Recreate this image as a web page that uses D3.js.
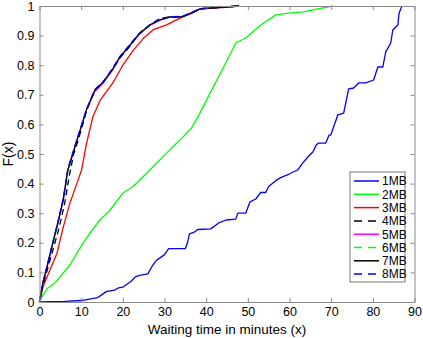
<!DOCTYPE html>
<html>
<head>
<meta charset="utf-8">
<script src="https://cdn.jsdelivr.net/npm/d3@7"></script>
<style>
  body { margin: 0; background: #fff; }
  svg { display: block; font-family: "Liberation Sans", Arial, sans-serif; }
</style>
</head>
<body>
<svg id="chart"></svg>
<script>
const mb1 = [[0,0],[6,0.002],[10,0.005],[12,0.01],[14,0.015],[15,0.025],[16,0.035],[18,0.04],[19,0.048],[20,0.05],[22,0.07],[23,0.085],[24,0.09],[26,0.095],[27,0.12],[28,0.14],[29,0.15],[30,0.16],[31,0.18],[35,0.18],[35.5,0.2],[36,0.23],[37,0.235],[38,0.245],[41.1,0.247],[43,0.267],[44.8,0.277],[47.1,0.28],[47.6,0.3],[49.5,0.3],[50.5,0.338],[51.9,0.348],[53.1,0.37],[54.3,0.37],[55,0.39],[56.7,0.41],[57.9,0.42],[59.6,0.43],[61,0.44],[62,0.446],[63.2,0.47],[64.4,0.49],[65.6,0.507],[66.4,0.53],[67,0.537],[68.7,0.537],[69.5,0.564],[69.9,0.564],[71.6,0.632],[73,0.638],[74.2,0.72],[75.4,0.723],[76.6,0.74],[78.3,0.74],[80.2,0.75],[81.2,0.794],[82.4,0.794],[83.1,0.845],[84.3,0.875],[84.8,0.919],[86,0.936],[86.3,0.976],[87,1]];
const mb2 = [[0,0],[0.8,0.024],[2,0.047],[3.7,0.064],[5.7,0.098],[7.3,0.125],[9.7,0.182],[12.1,0.233],[14.5,0.277],[16.9,0.31],[20,0.368],[22.5,0.39],[26.5,0.446],[30.5,0.503],[33.7,0.547],[36.5,0.588],[38.5,0.638],[41.1,0.71],[44.2,0.794],[47.1,0.875],[49.5,0.892],[53.1,0.936],[56.7,0.97],[59.8,0.976],[63.4,0.98],[66.8,0.99],[70.4,1]];
const mb3 = [[0,0],[0.8,0.05],[2.5,0.108],[4.2,0.165],[5.7,0.253],[7.3,0.334],[9.2,0.41],[10.1,0.446],[11.3,0.537],[12.8,0.625],[14.5,0.68],[17.6,0.74],[20,0.8],[22.5,0.85],[24.9,0.89],[27.3,0.92],[30.5,0.936],[32.9,0.953],[35.3,0.97],[37.7,0.986],[39.2,0.993],[44,0.995],[47.9,1]];
const mb4 = [[0,0],[0.8,0.055],[2,0.115],[3.3,0.18],[4.7,0.25],[6,0.33],[7.2,0.43],[8.2,0.5],[9.3,0.547],[11.4,0.65],[13.3,0.716],[15.3,0.743],[17.7,0.79],[19.5,0.828],[21.5,0.86],[23.5,0.9],[26.5,0.936],[28.9,0.958],[31.3,0.963],[34.2,0.963],[36.5,0.976],[38.5,0.99],[41.1,0.993],[47.9,1]];
const mb5 = [[0,0],[0.8,0.064],[2,0.13],[3.2,0.2],[4.4,0.267],[5.7,0.345],[6.8,0.446],[9,0.547],[11.3,0.65],[13.3,0.712],[15.3,0.74],[17.7,0.787],[19.3,0.826],[21.7,0.866],[24.1,0.907],[26.5,0.935],[28.9,0.952],[31.3,0.962],[34.2,0.963],[36.5,0.976],[38.5,0.99],[41.1,0.993],[47.9,1]];
const mb6 = [[0,0],[0.8,0.06],[2,0.125],[3.2,0.195],[4.4,0.262],[5.7,0.34],[6.8,0.44],[9,0.545],[11.3,0.648],[13.3,0.716],[15.3,0.743],[17.7,0.79],[19.3,0.828],[21.7,0.868],[24.1,0.909],[26.5,0.936],[28.9,0.953],[31.3,0.963],[34.2,0.963],[36.5,0.976],[38.5,0.99],[41.1,0.993],[47.9,1]];
const mb7 = [[0,0],[0.8,0.064],[2,0.13],[3.2,0.2],[4.4,0.267],[5.7,0.345],[6.8,0.446],[9,0.547],[11.3,0.65],[13.3,0.716],[15.3,0.743],[17.7,0.79],[19.3,0.828],[21.7,0.868],[24.1,0.909],[26.5,0.936],[28.9,0.953],[31.3,0.963],[34.2,0.963],[36.5,0.976],[38.5,0.99],[41.1,0.993],[47.9,1]];
const mb8 = [[0,0],[0.8,0.066],[2,0.132],[3.2,0.203],[4.4,0.27],[5.7,0.35],[6.8,0.45],[9,0.55],[11.3,0.652],[13.3,0.718],[15.3,0.745],[17.7,0.792],[19.3,0.83],[21.7,0.87],[24.1,0.91],[26.5,0.937],[28.9,0.954],[31.3,0.964],[34.2,0.965],[36.5,0.977],[38.5,0.99],[41.1,0.994],[47.9,1]];

const seriesNames = ["1MB", "2MB", "3MB", "4MB", "5MB", "6MB", "7MB", "8MB"];
const seriesData = [mb1, mb2, mb3, mb4, mb5, mb6, mb7, mb8];
const seriesColors = ["#0000ff", "#00ff00", "#ff0000", "#000000", "#ff00ff", "#00ff00", "#000000", "#0000ff"];
const seriesDash = [null, null, null, "6,4", null, "6,4", null, "6,4"];
// draw order: 2MB..8MB under, then 1MB, overlapping group topped by 8MB
const drawOrder = [1, 2, 0, 4, 5, 6, 3, 7];

const xTicks = [0, 10, 20, 30, 40, 50, 60, 70, 80, 90];
const yTicks = [0, 0.1, 0.2, 0.3, 0.4, 0.5, 0.6, 0.7, 0.8, 0.9, 1];

const width = 423, height = 338;
const margin = {top: 6, right: 8.5, bottom: 36, left: 39.5};

const svg = d3.select("#chart").attr("width", width).attr("height", height);

const x = d3.scaleLinear().domain([0, 90]).range([margin.left, width - margin.right]);
const y = d3.scaleLinear().domain([0, 1]).range([height - margin.bottom, margin.top]);

const axisColor = "#8a8a8a";

// lines
const line = d3.line().x(d => x(d[0])).y(d => y(d[1]));
const plot = svg.append("g");
drawOrder.forEach(i => {
    plot.append("path")
        .datum(seriesData[i])
        .attr("fill", "none")
        .attr("stroke", seriesColors[i])
        .attr("stroke-width", 1.3)
        .attr("stroke-dasharray", seriesDash[i])
        .attr("stroke-linejoin", "round")
        .attr("d", line);
});

// box + inner ticks on all sides
const fmtY = d => d === 0 ? "0" : d === 1 ? "1" : d3.format(".1f")(d);
const axB = svg.append("g").attr("transform", `translate(0,${y(0)})`)
    .call(d3.axisBottom(x).tickValues(xTicks).tickSizeInner(-4).tickSizeOuter(0).tickPadding(5));
const axT = svg.append("g").attr("transform", `translate(0,${y(1)})`)
    .call(d3.axisTop(x).tickValues(xTicks).tickSizeInner(-4).tickSizeOuter(0).tickFormat(""));
const axL = svg.append("g").attr("transform", `translate(${x(0)},0)`)
    .call(d3.axisLeft(y).tickValues(yTicks).tickSizeInner(-4).tickSizeOuter(0).tickPadding(5).tickFormat(fmtY));
const axR = svg.append("g").attr("transform", `translate(${x(90)},0)`)
    .call(d3.axisRight(y).tickValues(yTicks).tickSizeInner(-4).tickSizeOuter(0).tickFormat(""));

[axB, axT, axL, axR].forEach(g => {
    g.select(".domain").attr("stroke", axisColor).attr("stroke-width", 1);
    g.selectAll(".tick line").attr("stroke", axisColor);
    g.selectAll(".tick text").attr("fill", "#000").attr("font-size", 12.5).attr("font-family", "Liberation Sans, Arial, sans-serif");
});

// axis labels
svg.append("text")
    .attr("x", (x(0) + x(90)) / 2).attr("y", 334)
    .attr("text-anchor", "middle").attr("font-size", 13.5)
    .text("Waiting time in minutes (x)");
svg.append("text")
    .attr("transform", `translate(13,${(y(0) + y(1)) / 2}) rotate(-90)`)
    .attr("text-anchor", "middle").attr("font-size", 14)
    .text("F(x)");

// legend
const lg = svg.append("g").attr("transform", "translate(350,172)");
lg.append("rect")
    .attr("width", 55).attr("height", 110)
    .attr("fill", "#fff").attr("stroke", "#555").attr("stroke-width", 0.8);
seriesNames.forEach((name, i) => {
    const yy = 9 + i * 13.3;
    lg.append("line")
        .attr("x1", 4).attr("x2", 29).attr("y1", yy).attr("y2", yy)
        .attr("stroke", seriesColors[i]).attr("stroke-width", 1.5)
        .attr("stroke-dasharray", seriesDash[i] ? "8,6" : null);
    lg.append("text")
        .attr("x", 32).attr("y", yy + 4.3)
        .attr("font-size", 12)
        .text(name);
});
</script>
</body>
</html>
